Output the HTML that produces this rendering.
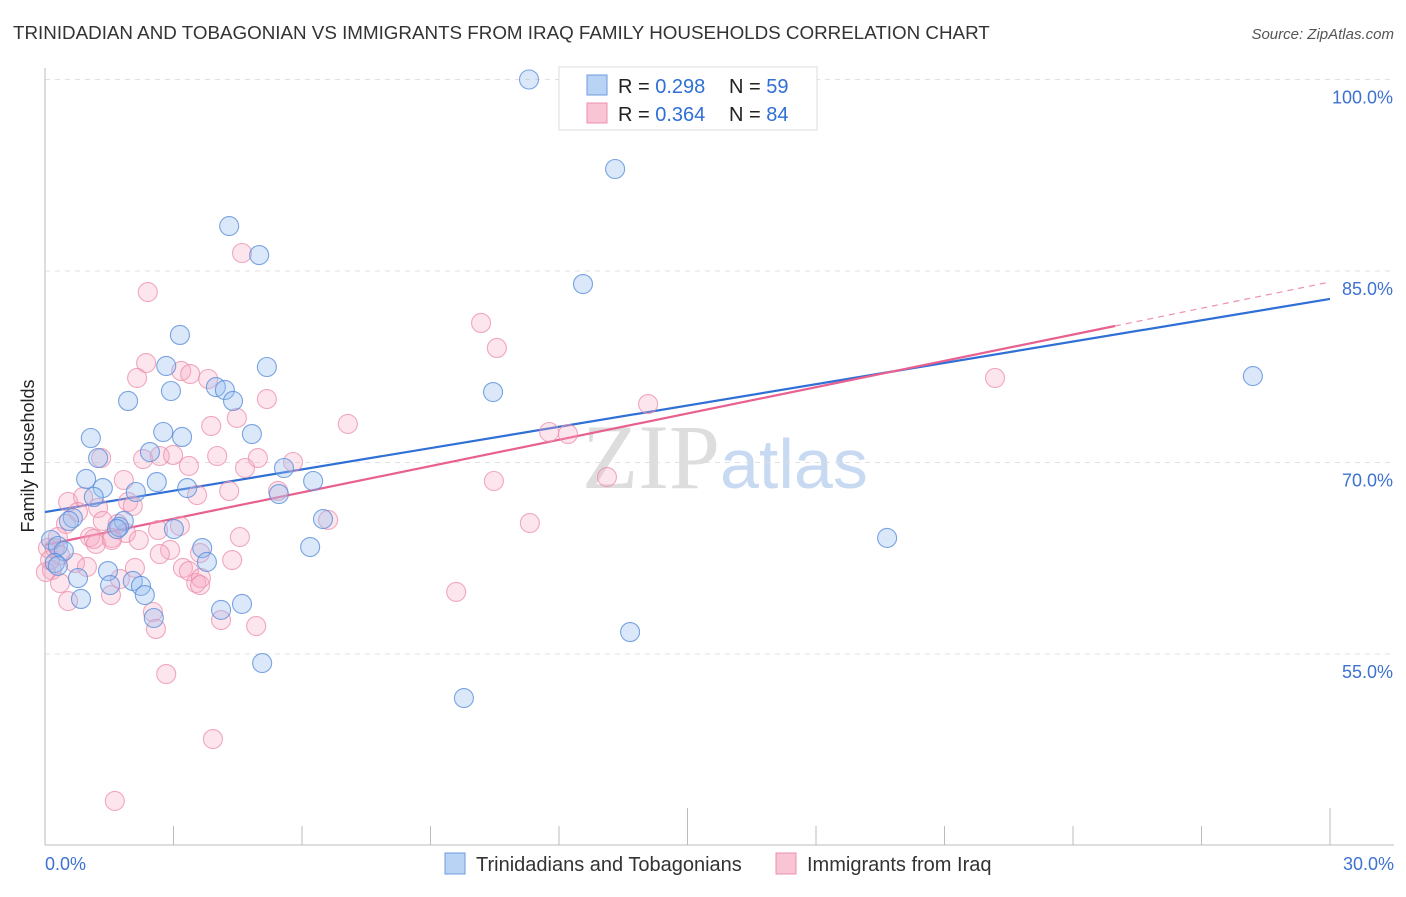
<!DOCTYPE html>
<html><head><meta charset="utf-8"><style>
body{margin:0;background:#fff;font-family:"Liberation Sans",sans-serif}
</style></head><body>
<svg width="1406" height="892" xmlns="http://www.w3.org/2000/svg" font-family="Liberation Sans, sans-serif">
<text x="13" y="39" font-size="18.8" fill="#333">TRINIDADIAN AND TOBAGONIAN VS IMMIGRANTS FROM IRAQ FAMILY HOUSEHOLDS CORRELATION CHART</text>
<text x="1394" y="39" font-size="15" fill="#555" font-style="italic" text-anchor="end">Source: ZipAtlas.com</text>
<text x="720" y="488" font-size="92" fill="#ddd" text-anchor="end" font-family="Liberation Serif, serif">ZIP</text>
<text x="720" y="488" font-size="70" fill="#c8daf2">atlas</text>
<g id="grid"></g>
<g id="axes"></g>
<text transform="translate(34,456) rotate(-90)" font-size="18" fill="#222" text-anchor="middle">Family Households</text>
<g id="trend"></g>
<g id="pts"></g>
<g>
<rect x="559" y="67" width="258" height="63" fill="#fff" stroke="#ddd"/>
<rect x="587" y="75" width="20" height="20" fill="#b9d3f5" stroke="#6d9be0"/>
<rect x="587" y="103" width="20" height="20" fill="#f9c4d4" stroke="#ec8fad"/>
<text x="618" y="93" font-size="20" fill="#222">R = <tspan fill="#2f6fd6">0.298</tspan></text>
<text x="729" y="93" font-size="20" fill="#222">N = <tspan fill="#2f6fd6">59</tspan></text>
<text x="618" y="121" font-size="20" fill="#222">R = <tspan fill="#2f6fd6">0.364</tspan></text>
<text x="729" y="121" font-size="20" fill="#222">N = <tspan fill="#2f6fd6">84</tspan></text>
</g>
<g>
<rect x="445" y="853" width="20" height="21" fill="#b9d3f5" stroke="#6d9be0"/>
<text x="476" y="871" font-size="20" fill="#333">Trinidadians and Tobagonians</text>
<rect x="776" y="853" width="20" height="21" fill="#f9c4d4" stroke="#ec8fad"/>
<text x="807" y="871" font-size="20" fill="#333">Immigrants from Iraq</text>
</g>
<text x="45" y="870" font-size="18" fill="#3d72d0">0.0%</text>
<text x="1394" y="870" font-size="18" fill="#3d72d0" text-anchor="end">30.0%</text>
</svg>
<script>
const yTicks=[100,85,70,55];
const yTickLabels=["100.0%","85.0%","70.0%","55.0%"];
const blueX=[11.30,13.31,4.30,5.00,12.56,3.15,2.83,5.18,28.20,10.46,2.94,3.99,4.20,4.39,1.94,1.07,2.76,3.20,4.83,2.45,1.24,5.58,0.96,2.61,6.26,3.32,1.35,1.14,2.12,5.46,0.65,0.56,1.84,6.49,1.73,1.68,19.66,0.14,0.30,0.44,3.67,6.19,0.23,0.30,3.78,1.47,0.77,2.05,2.24,2.33,4.60,4.11,2.54,0.84,1.52,13.66,5.07,9.78,3.01];
const blueY=[100.0,92.99,88.52,86.25,83.98,79.99,77.56,77.48,76.77,75.52,75.60,75.91,75.68,74.82,74.82,71.92,72.39,72.00,72.23,70.82,70.35,69.57,68.71,68.47,68.55,68.00,68.00,67.30,67.69,67.53,65.65,65.42,65.42,65.57,64.95,64.79,64.09,63.93,63.46,63.07,63.30,63.38,62.13,61.90,62.21,61.50,60.95,60.72,60.33,59.62,58.92,58.45,57.82,59.31,60.40,56.72,54.29,51.55,64.79];
const pinkX=[2.40,4.60,10.18,10.55,2.36,3.18,3.39,2.15,3.81,5.18,4.48,7.07,3.88,11.77,12.21,1.31,2.29,2.68,2.99,3.36,4.02,4.67,5.79,4.97,22.18,14.08,1.84,10.48,13.12,3.55,4.30,5.44,0.54,0.89,1.94,1.24,2.05,0.77,3.15,1.35,1.70,2.64,0.49,6.61,11.32,1.05,1.56,1.89,1.14,4.55,0.30,0.07,0.23,2.92,2.68,3.62,0.70,0.98,4.37,3.22,1.75,2.10,3.36,3.53,3.64,1.54,0.54,9.60,2.52,4.11,4.93,2.59,2.83,3.92,1.63,0.16,0.02,0.35,0.12,1.56,1.19,2.19,0.35,3.62];
const pinkY=[83.35,86.41,80.93,78.97,77.79,77.17,76.93,76.62,76.54,74.97,73.49,73.02,72.86,72.39,72.23,70.35,70.27,70.51,70.59,69.73,70.51,69.57,70.04,70.35,76.62,74.58,68.63,68.55,68.86,67.45,67.77,67.77,66.91,67.30,66.91,66.44,66.60,66.12,65.03,65.42,65.19,64.71,65.19,65.50,65.26,64.16,64.09,64.48,64.01,64.16,64.16,63.30,63.30,63.15,62.83,62.91,62.13,61.82,62.36,61.74,60.87,61.74,61.50,60.56,60.95,59.62,59.15,59.86,58.29,57.66,57.19,56.96,53.43,48.34,43.49,61.58,61.42,62.75,62.36,63.93,63.62,63.93,60.56,60.40];
const blueTrend=[66.12,82.81];
const pinkTrend=[63.54,84.14];
const pinkSolidEnd=24.98;
const xTicks=[0,3,6,9,12,15,18,21,24,27,30];

const NS="http://www.w3.org/2000/svg";
const X0=45,X1=1330,YB=79.5,PX=191.5/15;
const sx=v=>X0+(v/30)*(X1-X0);
const sy=v=>YB+(100-v)*PX;
function mk(tag,attrs,parent){const e=document.createElementNS(NS,tag);for(const k in attrs)e.setAttribute(k,attrs[k]);parent.appendChild(e);return e;}
const grid=document.getElementById('grid'),axes=document.getElementById('axes'),trend=document.getElementById('trend'),pts=document.getElementById('pts');
yTicks.forEach((t,i)=>{
  const l=mk('line',{x1:X0,x2:1394,y1:sy(t),y2:sy(t),stroke:'#e0e0e0','stroke-dasharray':'5,5'},grid);
  
  
  const tx=mk('text',{x:1393,y:sy(t)+24,'font-size':18,fill:'#3d72d0','text-anchor':'end'},grid);
  tx.textContent=yTickLabels[i];
  
  
});
const ya=mk('line',{x1:X0,x2:X0,y1:68,y2:845,stroke:'#bbb'},axes);


const xa=mk('line',{x1:X0,x2:1394,y1:845,y2:845,stroke:'#bbb'},axes);


xTicks.forEach(t=>{
  const tall=(t===15||t===30);
  const tk=mk('line',{x1:sx(t),x2:sx(t),y1:tall?808:826,y2:845,stroke:'#bbb'},axes);
  
  
});
function trendLine(tr,col,name,endX,dashEnd){
  const f=x=>tr[0]+(tr[1]-tr[0])*x/30;
  const l=mk('line',{x1:sx(0),y1:sy(f(0)),x2:sx(endX),y2:sy(f(endX)),stroke:col,'stroke-width':2.2},trend);
  
  
  if(dashEnd){
    const d=mk('line',{x1:sx(endX),y1:sy(f(endX)),x2:sx(30),y2:sy(f(30)),stroke:col,'stroke-width':1.2,'stroke-dasharray':'6,5',opacity:0.7},trend);
    
    
  }
}
trendLine(blueTrend,'#2f6fd6','trend-line-trinidadians',30,false);
trendLine(pinkTrend,'#e8608f','trend-line-iraq',pinkSolidEnd,true);
pinkX.forEach((x,i)=>{
  const c=mk('circle',{cx:sx(x),cy:sy(pinkY[i]),r:9.5,fill:'rgba(247,170,195,0.3)',stroke:'rgba(235,142,171,0.75)','stroke-width':1.1},pts);
  
  
});
blueX.forEach((x,i)=>{
  const c=mk('circle',{cx:sx(x),cy:sy(blueY[i]),r:9.5,fill:'rgba(150,190,240,0.35)',stroke:'rgba(91,143,217,0.8)','stroke-width':1.1},pts);
  
  
});
</script>
</body></html>
